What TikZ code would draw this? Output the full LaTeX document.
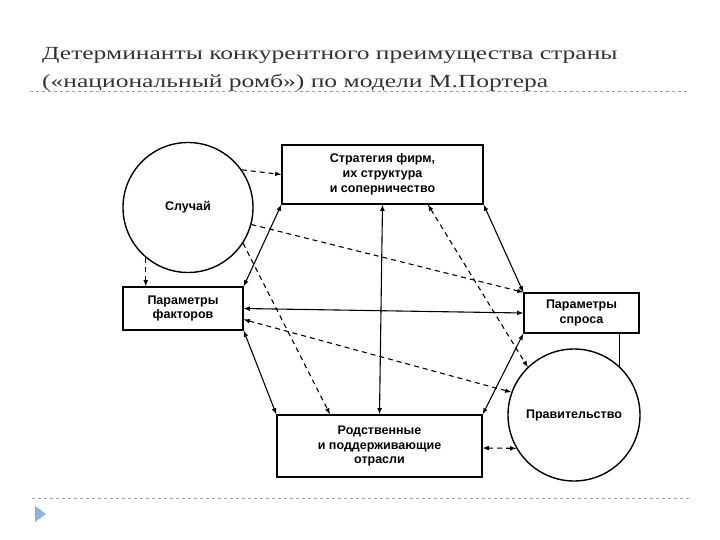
\documentclass[tikz,border=0pt]{standalone}
\usepackage{fontspec}
\setmainfont{Liberation Sans}
\newfontfamily\titlefont[FakeStretch=1.38]{Liberation Serif}
\usepackage{tikz}
\definecolor{titlegray}{HTML}{333333}
\definecolor{rulegray}{HTML}{A0A0A0}
\definecolor{bulletblue}{HTML}{8DB3DB}

\begin{document}
\begin{tikzpicture}[x=1pt, y=-1pt,
    factor/.style={draw, line width=1.4pt, inner sep=0pt, align=center,
      font=\fontsize{12.5}{14.8}\selectfont\bfseries},
    chance/.style={draw, circle, line width=1.4pt, inner sep=0pt,
      font=\fontsize{12.5}{14.8}\selectfont\bfseries},
    link/.style={latex-latex, line width=1.1pt},
    hint/.style={-latex, line width=1.1pt, dash pattern=on 5pt off 4pt}]
    \useasboundingbox (0,0) rectangle (720,540);
    % heading
    \node[anchor=base west, inner sep=0pt, text=titlegray,
      font=\titlefont\fontsize{18.5}{22}\selectfont] (head1) at (42,60)
      {Детерминанты конкурентного преимущества страны};
    \node[anchor=base west, inner sep=0pt, text=titlegray,
      font=\titlefont\fontsize{18.5}{22}\selectfont] (head2) at (42,88)
      {(«национальный ромб») по модели М.Портера};
    \coordinate (rt1) at (30,91);
    \coordinate (rt2) at (690,91);
    \coordinate (rb1) at (32,498);
    \coordinate (rb2) at (690,498);
    \draw[rulegray, dashed, line width=0.6pt] (rt1) -- (rt2);
    \draw[rulegray, dashed, line width=0.6pt] (rb1) -- (rb2);
    \fill[bulletblue] (35,506) -- (46,514) -- (35,522) -- cycle;
    % the diamond
    \node[chance, minimum size=130] (chance) at (188,207.5) {Случай};
    \node[chance, minimum size=132] (govt) at (574,415) {Правительство};
    \node[factor, minimum width=201, minimum height=59] (strat)
      at (382.5,174.5) {Стратегия фирм,\\ их структура\\ и соперничество};
    \node[factor, minimum width=120, minimum height=43] (inputs)
      at (183,308.5) {Параметры\\ факторов};
    \node[factor, minimum width=115, minimum height=40] (demand)
      at (581.5,313) {Параметры\\ спроса};
    \node[factor, minimum width=205, minimum height=62] (related)
      at (379.5,446) {Родственные\\ и поддерживающие\\ отрасли};
    \draw[link] (strat.south west) -- (inputs.north east);
    \draw[link] (strat.south east) -- (demand.north west);
    \draw[link] (inputs.south east) -- (related.north west);
    \draw[link] (demand.south west) -- (related.north east);
    \draw[link] (strat.south) -- (related.north);
    \draw[link] (inputs.east) -- (demand.west);
    \draw[hint] (chance.35) -- (strat.west);
    \draw[hint] (chance.230) -- (chance.230 |- inputs.north);
    \draw[hint] (chance.345) -- (demand.north west);
    \draw[hint] (chance.327) -- ([xshift=-49.5pt]related.north);
    \draw[hint, latex-latex] ([xshift=45.5pt]strat.south) -- (govt.134);
    \draw[hint, latex-latex] ([yshift=-11pt]inputs.east) -- (govt.160);
    \draw[hint, latex-latex] ([yshift=-2pt]related.east) -- (govt.210);
    \draw[line width=1.1pt] (govt.47 |- demand.south) -- (govt.47);
  \end{tikzpicture}
\end{document}
